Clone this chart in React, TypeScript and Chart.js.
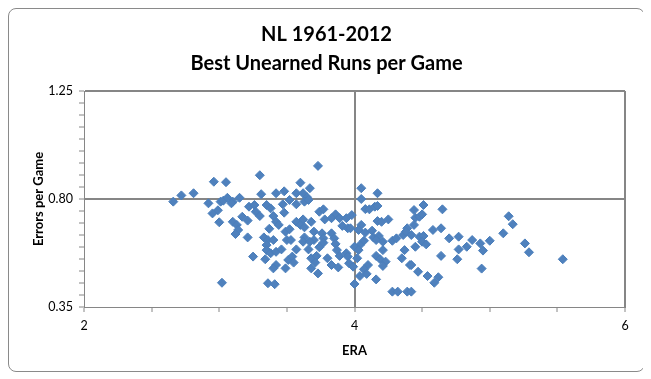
import React, { useEffect, useRef } from 'react';
import { Chart, registerables } from 'chart.js';

Chart.register(...registerables);

const chartTitle = ['NL 1961-2012', 'Best Unearned Runs per Game'];
const xAxisTitle = 'ERA';
const yAxisTitle = 'Errors per Game';
const xMajorTicks = [2, 4, 6];
const yMajorTicks = [0.35, 0.8, 1.25];

const era = [
  2.66, 2.72, 2.81, 2.96, 3.05, 2.92, 2.95, 2.99, 3.0, 3.01, 3.03, 3.06, 3.02,
  3.3, 3.31, 3.42, 3.48, 3.15, 3.1, 3.09, 3.22, 3.26, 3.27, 3.3, 3.35, 3.38, 3.47, 3.48, 3.4, 3.42, 3.44,
  3.17, 3.21, 3.1, 3.13, 3.14, 3.12, 3.37, 3.49, 3.21, 3.33, 3.36, 3.4, 3.5, 3.35, 3.35, 3.38, 3.42, 3.46,
  3.25, 3.34, 3.42, 3.4, 3.49, 3.51, 3.36, 3.41,
  3.73, 3.6, 3.67, 3.57, 3.62, 3.65, 3.63, 3.66, 3.57, 3.52, 3.74, 3.77, 3.86, 3.83, 3.89, 3.94, 3.78,
  3.68, 3.57, 3.62, 3.6, 3.63, 3.91, 3.95, 3.52, 3.7, 3.76, 3.83, 3.63, 3.7, 3.77, 3.85, 3.62, 3.67,
  3.77, 3.86, 3.53, 3.57, 3.66, 3.74, 3.87, 3.89, 3.94, 3.95, 3.54, 3.55, 3.68, 3.72, 3.8, 3.71, 3.83,
  3.88, 3.68, 3.73, 3.96,
  4.05, 4.17, 4.05, 4.08, 4.11, 4.15, 4.17, 3.98, 4.17, 4.2, 4.25, 4.05, 4.03, 4.08, 3.97, 4.13, 4.14,
  4.18, 4.07, 4.04, 4.0, 4.16, 4.21, 4.21, 4.28, 4.31, 4.36, 4.39, 4.38, 4.37, 4.03, 4.02, 4.16, 4.19,
  4.23, 4.35, 4.21, 4.1, 4.07, 3.99, 4.04, 4.09, 4.16, 4.0, 4.41, 4.28, 4.32, 4.39,
  4.51, 4.44, 4.65, 4.45, 4.48, 4.5, 4.44, 4.58, 4.64, 4.42, 4.48, 4.51, 4.5, 4.53, 4.45, 4.7, 4.77,
  4.77, 4.83, 4.64, 4.76, 4.42, 4.47, 4.54, 4.62, 4.59, 4.42,
  5.14, 5.17, 5.1, 5.0, 4.87, 4.93, 4.95, 5.26, 5.29, 5.54, 4.94,
];

const errorsPerGame = [
  0.789, 0.815, 0.824, 0.872, 0.87, 0.782, 0.74, 0.753, 0.703, 0.789, 0.793, 0.805, 0.451,
  0.899, 0.82, 0.824, 0.832, 0.805, 0.789, 0.782, 0.768, 0.775, 0.747, 0.729, 0.775, 0.761, 0.778, 0.743, 0.729, 0.705, 0.692,
  0.726, 0.71, 0.705, 0.692, 0.671, 0.654, 0.676, 0.664, 0.64, 0.64, 0.629, 0.629, 0.629, 0.608, 0.587, 0.574, 0.58, 0.59,
  0.56, 0.549, 0.525, 0.511, 0.511, 0.546, 0.449, 0.445,
  0.938, 0.868, 0.845, 0.824, 0.824, 0.807, 0.789, 0.796, 0.778, 0.796, 0.747, 0.757, 0.736, 0.72, 0.72, 0.72, 0.715,
  0.705, 0.705, 0.715, 0.692, 0.682, 0.688, 0.678, 0.674, 0.664, 0.657, 0.657, 0.64, 0.629, 0.636, 0.636, 0.622, 0.622,
  0.618, 0.613, 0.629, 0.59, 0.59, 0.599, 0.587, 0.563, 0.574, 0.56, 0.56, 0.535, 0.553, 0.563, 0.553, 0.535, 0.525,
  0.515, 0.511, 0.49, 0.532,
  0.845, 0.824, 0.8, 0.758, 0.757, 0.768, 0.771, 0.733, 0.708, 0.705, 0.715, 0.692, 0.671, 0.66, 0.678, 0.668, 0.64,
  0.646, 0.626, 0.608, 0.601, 0.629, 0.622, 0.587, 0.626, 0.636, 0.65, 0.678, 0.664, 0.587, 0.587, 0.553, 0.563, 0.549,
  0.539, 0.553, 0.521, 0.525, 0.507, 0.518, 0.479, 0.488, 0.465, 0.446, 0.525, 0.414, 0.414, 0.414,
  0.775, 0.754, 0.757, 0.722, 0.726, 0.736, 0.692, 0.671, 0.678, 0.65, 0.643, 0.646, 0.622, 0.611, 0.601, 0.636, 0.643,
  0.59, 0.601, 0.563, 0.549, 0.525, 0.497, 0.479, 0.474, 0.451, 0.414,
  0.728, 0.695, 0.657, 0.626, 0.629, 0.615, 0.585, 0.615, 0.578, 0.549, 0.51,
];

const GRID = '#868686';
const FONT = 'Lato, "Open Sans", sans-serif';

const isMajor = (v: number, list: number[]) => list.some((m) => Math.abs(v - m) < 1e-6);

const textPlugin = {
  id: 'excelText',
  afterDraw(chart: any) {
    const ctx = chart.ctx as CanvasRenderingContext2D;
    const a = chart.chartArea;
    ctx.save();
    ctx.fillStyle = '#000';
    ctx.textAlign = 'center';
    ctx.textBaseline = 'middle';
    ctx.font = `bold 20px ${FONT}`;
    ctx.fillText(chartTitle[0], chart.width / 2, 26);
    ctx.fillText(chartTitle[1], chart.width / 2, 55);
    ctx.font = `bold 13px ${FONT}`;
    ctx.fillText(xAxisTitle, (a.left + a.right) / 2, 342);
    ctx.translate(30, (a.top + a.bottom) / 2);
    ctx.rotate(-Math.PI / 2);
    ctx.fillText(yAxisTitle, 0, 0);
    ctx.restore();
  },
};

export default function App() {
  const ref = useRef<HTMLCanvasElement | null>(null);

  useEffect(() => {
    if (!ref.current) return;
    const points = era.map((x, i) => ({ x, y: errorsPerGame[i] }));
    const chart = new Chart(ref.current, {
      type: 'scatter',
      data: {
        datasets: [
          {
            label: 'Errors per Game',
            data: points,
            pointStyle: 'rectRot',
            pointRadius: 4.5,
            backgroundColor: '#4F81BD',
            borderColor: '#4A7EBB',
            borderWidth: 1,
            showLine: false,
          },
        ],
      },
      options: {
        responsive: false,
        maintainAspectRatio: false,
        animation: false,
        devicePixelRatio: 1,
        layout: { padding: { top: 82, right: 19, bottom: 34, left: 35 } },
        plugins: {
          legend: { display: false },
          tooltip: { enabled: false },
          title: { display: false },
        },
        scales: {
          x: {
            type: 'linear',
            min: 2,
            max: 6,
            afterFit: (s: any) => {
              s.height = 30;
            },
            ticks: {
              stepSize: 0.5,
              autoSkip: false,
              maxRotation: 0,
              padding: 6,
              color: '#000',
              font: { family: FONT, size: 12.5 },
              callback: (v: any) => (isMajor(Number(v), xMajorTicks) ? String(Number(v)) : ''),
            },
            grid: {
              color: (c: any) => {
                const v = c.tick ? c.tick.value : NaN;
                return isMajor(v, xMajorTicks) && Math.abs(v - 2) > 1e-6 ? GRID : 'rgba(0,0,0,0)';
              },
              lineWidth: 2,
              tickColor: GRID,
              tickWidth: 1,
              tickLength: 5,
            },
            border: { display: true, color: GRID, width: 1 },
          },
          y: {
            type: 'linear',
            min: 0.35,
            max: 1.25,
            afterFit: (s: any) => {
              s.width = 40;
            },
            ticks: {
              stepSize: 0.05,
              autoSkip: false,
              padding: 6,
              color: '#000',
              font: { family: FONT, size: 12.5 },
              callback: (v: any) => {
                const n = Number(v);
                const m = yMajorTicks.find((t) => Math.abs(t - n) < 1e-6);
                return m === undefined ? '' : m.toFixed(2);
              },
            },
            grid: {
              color: (c: any) => {
                const v = c.tick ? c.tick.value : NaN;
                return isMajor(v, yMajorTicks) && Math.abs(v - 0.35) > 1e-6 ? GRID : 'rgba(0,0,0,0)';
              },
              lineWidth: 2,
              tickColor: GRID,
              tickWidth: 1,
              tickLength: 5,
            },
            border: { display: true, color: GRID, width: 1 },
          },
        },
      },
      plugins: [textPlugin],
    });
    return () => chart.destroy();
  }, []);

  return (
    <div
      style={{
        width: 635,
        height: 362,
        border: '1px solid #8a8a8a',
        borderRadius: 8,
        overflow: 'hidden',
        background: '#fff',
      }}
    >
      <canvas ref={ref} width={635} height={362} style={{ display: 'block' }} />
    </div>
  );
}
